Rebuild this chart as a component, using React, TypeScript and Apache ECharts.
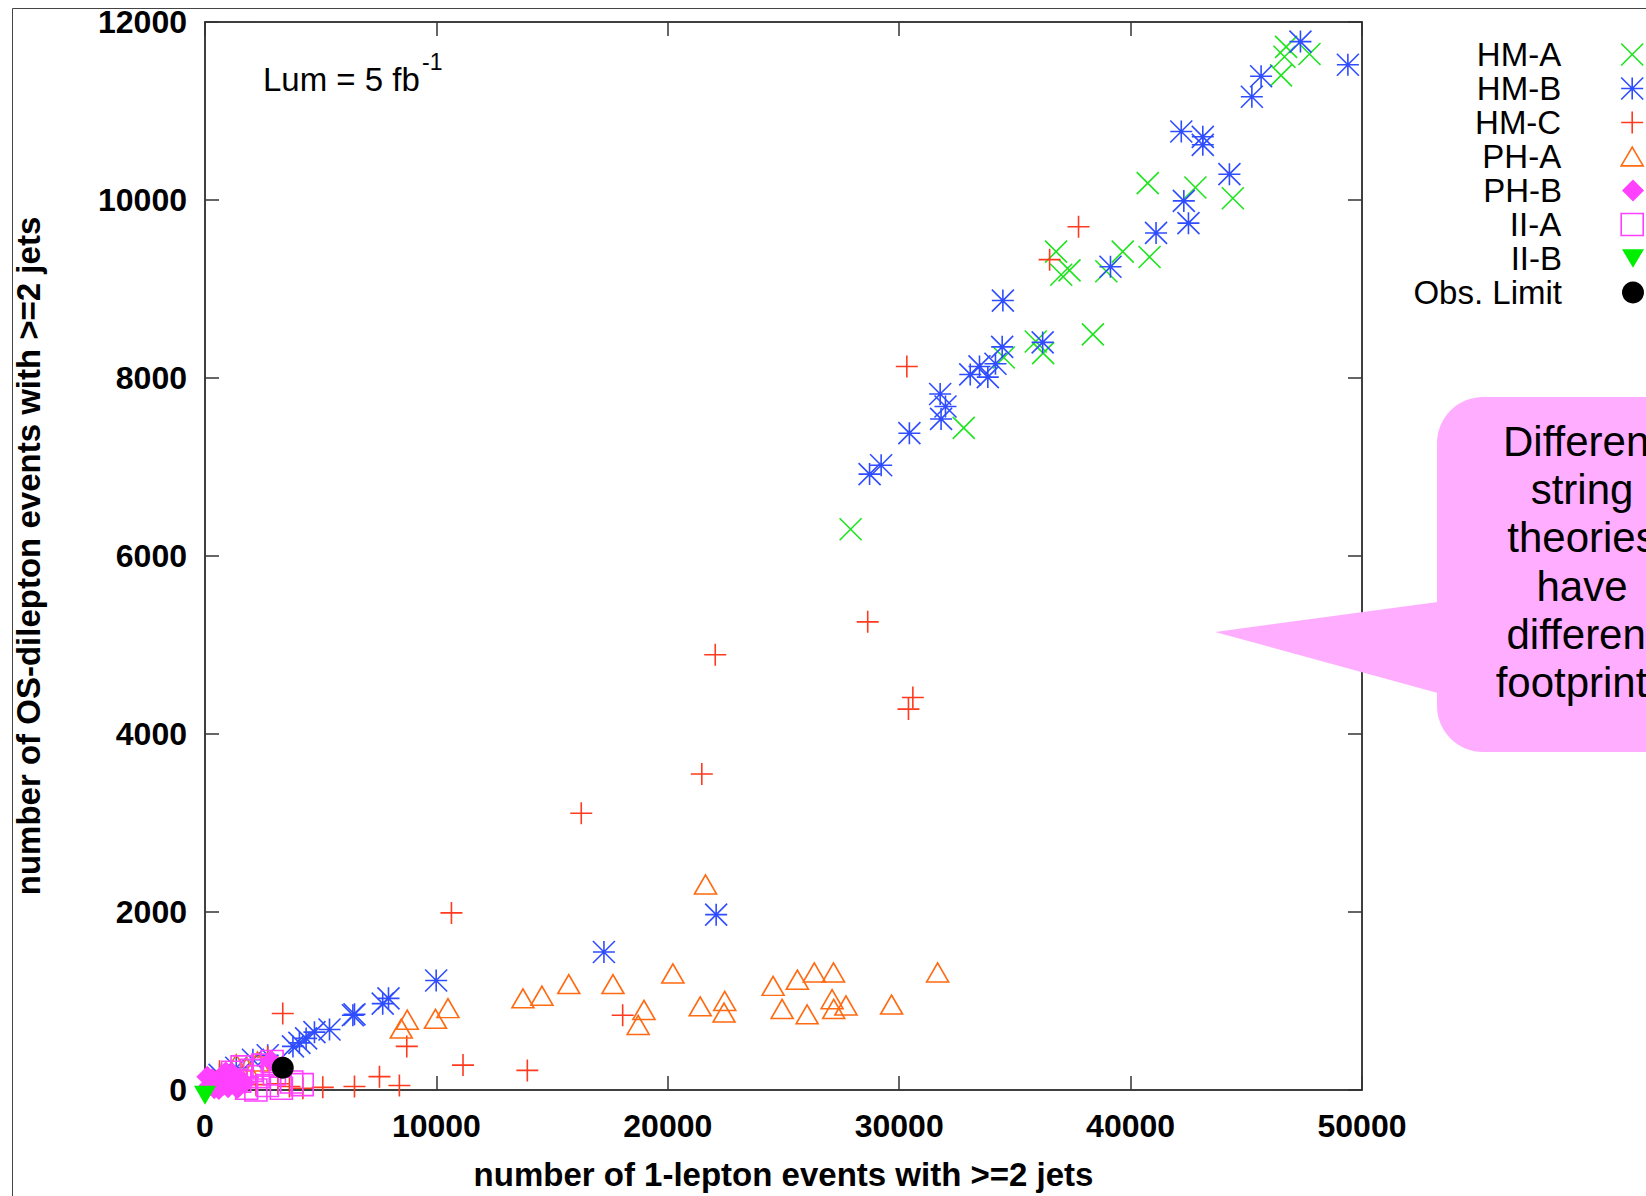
import React, { useEffect, useRef } from "react";
import * as echarts from "echarts";

// ---------------- data ----------------
const SERIES_NAMES = ["HM-A", "HM-B", "HM-C", "PH-A", "PH-B", "II-A", "II-B", "Obs. Limit"];

const xTicks = [0, 10000, 20000, 30000, 40000, 50000];
const yTicks = [0, 2000, 4000, 6000, 8000, 10000, 12000];

const hmA: [number, number][] = [
  [46720, 11720], [46650, 11610], [47730, 11640], [46500, 11400],
  [40740, 10190], [42800, 10140], [44420, 10020],
  [36780, 9420], [37360, 9210], [37000, 9160], [39660, 9420], [40820, 9360], [38950, 9200],
  [38370, 8490], [35900, 8410], [36220, 8280], [34520, 8230],
  [32790, 7440], [27900, 6300],
];

const hmB: [number, number][] = [
  [47340, 11780], [49390, 11520], [45640, 11390], [45240, 11160],
  [42190, 10770], [43120, 10710], [43120, 10620], [44270, 10290],
  [42300, 9990], [42500, 9740], [41100, 9630], [39130, 9250],
  [34480, 8870], [34450, 8350], [36200, 8400], [34160, 8160], [33470, 8130], [33070, 8040], [33830, 8010],
  [31770, 7820], [32000, 7680], [31810, 7540], [30440, 7380], [29220, 7020], [28720, 6920],
  [22090, 1970], [17240, 1550], [9990, 1230], [7930, 1030], [7680, 970], [6460, 850], [6390, 840],
  [5380, 680], [4730, 650], [4370, 580], [4080, 530], [3800, 490], [2710, 390], [2070, 340],
  [1350, 250], [630, 170],
];

const hmC: [number, number][] = [
  [37750, 9700], [36500, 9330], [30330, 8130], [28640, 5260], [22050, 4890], [30590, 4410],
  [30400, 4280], [21470, 3550], [16260, 3110], [10650, 1990], [3360, 860], [18050, 840],
  [8720, 490], [11150, 280], [13930, 220], [7540, 150], [8400, 50], [6460, 40], [5090, 30],
  [4230, 20], [3650, 40], [3150, 70], [2710, 370], [630, 210], [1500, 100], [2200, 60],
];

const phA: [number, number][] = [
  [9960, 800], [10500, 920], [13740, 1030], [14560, 1060], [15720, 1190], [17630, 1190],
  [18970, 900], [18720, 730], [20220, 1310], [21400, 940], [22460, 1000], [22430, 870],
  [24550, 1170], [25600, 1240], [26330, 1320], [27160, 1320], [24940, 910], [26020, 850],
  [27100, 1020], [27170, 910], [27700, 950], [29670, 960], [31660, 1320], [8740, 790],
  [8480, 690], [21630, 2310], [1350, 290], [2270, 320], [1800, 250], [900, 150],
];

const phB: [number, number][] = [
  [200, 50], [500, 80], [800, 60], [1100, 100], [300, 120], [700, 150], [1000, 30],
  [1300, 60], [400, 20], [600, 10], [1500, 120], [1700, 80], [100, 150], [900, 200],
  [1200, 180], [1400, 20], [2850, 330],
];

const iiA: [number, number][] = [
  [1200, 200], [1500, 100], [1800, 20], [2000, 220], [2300, 150], [2500, 280], [2700, 50],
  [3000, 180], [3300, 20], [3750, 90], [4200, 60], [1600, 260], [2200, 0], [2900, 320],
];

const iiB: [number, number][] = [[0, -60]];

const obsLimit: [number, number][] = [[3360, 250]];

const calloutLines = ["Different", "string", "theories", "have", "different", "footprints"];

// ---------------- styling ----------------
const FONT = "'Liberation Sans', Arial, Helvetica, sans-serif";
const GREEN = "#1ee41e";
const BLUE = "#2f4dff";
const RED = "#ff3a1e";
const ORANGE = "#ff6a12";
const MAGENTA = "#ff40ff";
const GREEN2 = "#00ee00";
const PINK = "#ffaeff";
const CLEAR = "rgba(0,0,0,0)";

const SYM_X = "path://M0,0L20,20M20,0L0,20";
const SYM_AST = "path://M10,0L10,20M0,10L20,10M0,0L20,20M20,0L0,20";
const SYM_PLUS = "path://M10,0L10,20M0,10L20,10";
const SYM_TRI = "path://M0,17L10,0L20,17Z";
const SYM_TRI_DOWN = "path://M0,0L20,0L10,17Z";

type Style = {
  data: [number, number][];
  symbol: string;
  size: number | number[];
  fill: string;
  stroke: string;
  lw: number;
};

const styles: Style[] = [
  { data: hmA, symbol: SYM_X, size: 22, fill: CLEAR, stroke: GREEN, lw: 1.6 },
  { data: hmB, symbol: SYM_AST, size: 22, fill: CLEAR, stroke: BLUE, lw: 1.6 },
  { data: hmC, symbol: SYM_PLUS, size: 22, fill: CLEAR, stroke: RED, lw: 1.6 },
  { data: phA, symbol: SYM_TRI, size: [22, 19], fill: CLEAR, stroke: ORANGE, lw: 1.6 },
  { data: phB, symbol: "diamond", size: 22, fill: MAGENTA, stroke: MAGENTA, lw: 0 },
  { data: iiA, symbol: "rect", size: 22, fill: CLEAR, stroke: MAGENTA, lw: 1.6 },
  { data: iiB, symbol: SYM_TRI_DOWN, size: [22, 19], fill: GREEN2, stroke: GREEN2, lw: 0 },
  { data: obsLimit, symbol: "circle", size: 22, fill: "#000", stroke: "#000", lw: 0 },
];

const GRID = { left: 205, top: 22, width: 1157, height: 1070 };

export default function App() {
  const ref = useRef<HTMLDivElement>(null);

  useEffect(() => {
    document.body.style.margin = "0";
    if (!ref.current) return;
    const chart = echarts.init(ref.current, undefined, { renderer: "svg" });

    const tickCommon = {
      show: true,
      inside: true,
      length: 14,
      lineStyle: { color: "#333", width: 1.5 },
    };
    const lineCommon = { show: true, onZero: false, lineStyle: { color: "#000", width: 1.5 } };

    const series = styles.map((s, i) => ({
      type: "scatter",
      name: SERIES_NAMES[i],
      data: s.data,
      symbol: s.symbol,
      symbolSize: s.size,
      clip: false,
      z: 2 + i,
      itemStyle: { color: s.fill, borderColor: s.stroke, borderWidth: s.lw, opacity: 1 },
      emphasis: { disabled: true },
    }));

    const legends = SERIES_NAMES.map((name, i) => ({
      data: [name],
      orient: "vertical",
      right: 2,
      top: 49 + i * 34 - 11,
      align: "right",
      padding: 0,
      itemGap: 0,
      itemWidth: 22,
      itemHeight: 22,
      selectedMode: false,
      textStyle: {
        fontSize: 33,
        fontFamily: FONT,
        color: "#000",
        lineHeight: 22,
        padding: [0, 55, 0, 0],
      },
      itemStyle: {
        color: styles[i].fill,
        borderColor: styles[i].stroke,
        borderWidth: styles[i].lw,
      },
    }));

    const calloutCenterY = 562;
    const lh = 48.3;

    chart.setOption({
      animation: false,
      backgroundColor: "#fff",
      grid: { ...GRID, containLabel: false },
      legend: legends,
      xAxis: [
        {
          type: "value",
          position: "bottom",
          min: 0,
          max: 50000,
          interval: 10000,
          axisLine: lineCommon,
          axisTick: tickCommon,
          splitLine: { show: false },
          axisLabel: {
            fontSize: 32,
            fontWeight: "bold",
            fontFamily: FONT,
            color: "#000",
            margin: 20,
            formatter: (v: number) => (xTicks.includes(v) ? String(v) : ""),
          },
          name: "number of 1-lepton events with >=2 jets",
          nameLocation: "middle",
          nameGap: 68,
          nameTextStyle: { fontSize: 33, fontWeight: "bold", fontFamily: FONT, color: "#000", verticalAlign: "top" },
        },
        {
          type: "value",
          position: "top",
          min: 0,
          max: 50000,
          interval: 10000,
          axisLine: lineCommon,
          axisTick: tickCommon,
          splitLine: { show: false },
          axisLabel: { show: false },
        },
      ],
      yAxis: [
        {
          type: "value",
          position: "left",
          min: 0,
          max: 12000,
          interval: 2000,
          axisLine: lineCommon,
          axisTick: tickCommon,
          splitLine: { show: false },
          axisLabel: {
            fontSize: 32,
            fontWeight: "bold",
            fontFamily: FONT,
            color: "#000",
            margin: 18,
            formatter: (v: number) => (yTicks.includes(v) ? String(v) : ""),
          },
          name: "number of OS-dilepton events with >=2 jets",
          nameLocation: "middle",
          nameGap: 160,
          nameRotate: 90,
          nameTextStyle: { fontSize: 33, fontWeight: "bold", fontFamily: FONT, color: "#000" },
        },
        {
          type: "value",
          position: "right",
          min: 0,
          max: 12000,
          interval: 2000,
          axisLine: lineCommon,
          axisTick: tickCommon,
          splitLine: { show: false },
          axisLabel: { show: false },
        },
      ],
      series,
      graphic: [
        // outer frame (left & top)
        { type: "line", shape: { x1: 12.5, y1: 8.5, x2: 12.5, y2: 1196 }, style: { stroke: "#444", lineWidth: 1 }, z: 0 },
        { type: "line", shape: { x1: 12.5, y1: 8.5, x2: 1646, y2: 8.5 }, style: { stroke: "#444", lineWidth: 1 }, z: 0 },
        // luminosity label
        {
          type: "text",
          x: 263,
          y: 79,
          style: { text: "Lum = 5 fb", font: `33px ${FONT}`, fill: "#000", textAlign: "left", textVerticalAlign: "middle" },
          z: 10,
        },
        {
          type: "text",
          x: 422,
          y: 62,
          style: { text: "-1", font: `23px ${FONT}`, fill: "#000", textAlign: "left", textVerticalAlign: "middle" },
          z: 10,
        },
        // callout
        {
          type: "polygon",
          shape: { points: [[1215, 632], [1445, 601], [1445, 695]] },
          style: { fill: PINK },
          z: 20,
        },
        {
          type: "rect",
          shape: { x: 1437, y: 397, width: 300, height: 355, r: 46 },
          style: { fill: PINK },
          z: 20,
        },
        {
          type: "text",
          x: 1582,
          y: calloutCenterY,
          style: {
            text: calloutLines.join("\n"),
            font: `42px ${FONT}`,
            lineHeight: lh,
            fill: "#000",
            textAlign: "center",
            textVerticalAlign: "middle",
          },
          z: 21,
        },
      ],
    });

    return () => chart.dispose();
  }, []);

  return <div ref={ref} style={{ width: 1646, height: 1196 }} />;
}
